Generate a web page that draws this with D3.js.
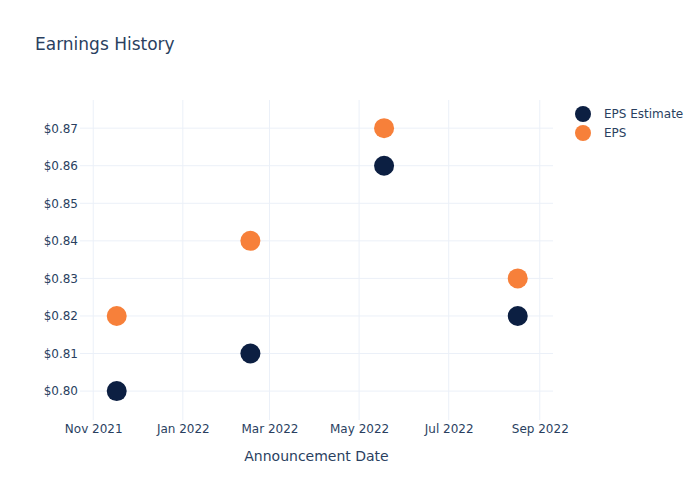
<!DOCTYPE html>
<html><head><meta charset="utf-8">
<script src="https://cdn.jsdelivr.net/npm/d3@7"></script>
<style>body{margin:0;background:#fff}svg{font-family:"DejaVu Sans",Verdana,sans-serif}</style>
</head><body>
<svg id="c" width="700" height="500"></svg>
<script>
const dates = ["2021-11-17","2022-02-16","2022-05-18","2022-08-17"];
const epsEstimate = [0.80, 0.81, 0.86, 0.82];
const eps = [0.82, 0.84, 0.87, 0.83];
const yTicks = [0.80,0.81,0.82,0.83,0.84,0.85,0.86,0.87];
const xTicks = ["2021-11-01","2022-01-01","2022-03-01","2022-05-01","2022-07-01","2022-09-01"];
const seriesNames = ["EPS Estimate","EPS"];
const colors = ["#0c1f42","#f7803a"];

const parse = d3.timeParse("%Y-%m-%d");
const svg = d3.select("#c");
const L=80,R=553,T=100,B=420;
const x = d3.scaleTime().domain([parse("2021-10-23"), parse("2022-09-10")]).range([L,R]);
const y = d3.scaleLinear().domain([0.7923,0.8775]).range([B,T]);
const txt="#2a3f5f", grid="#ebf0f8";

// grid
svg.append("g").selectAll("line").data(xTicks).join("line")
  .attr("x1",d=>x(parse(d))).attr("x2",d=>x(parse(d))).attr("y1",T).attr("y2",B)
  .attr("stroke",grid).attr("stroke-width",1);
svg.append("g").selectAll("line").data(yTicks).join("line")
  .attr("x1",L).attr("x2",R).attr("y1",d=>y(d)).attr("y2",d=>y(d))
  .attr("stroke",grid).attr("stroke-width",1);

// axes
const xa = svg.append("g").attr("transform",`translate(0,${B})`)
  .call(d3.axisBottom(x).tickValues(xTicks.map(parse)).tickFormat(d3.timeFormat("%b %Y")).tickSize(0).tickPadding(4));
const ya = svg.append("g").attr("transform",`translate(${L},0)`)
  .call(d3.axisLeft(y).tickValues(yTicks).tickFormat(d=>"$"+d.toFixed(2)).tickSize(0).tickPadding(2));
[xa,ya].forEach(a=>{a.select(".domain").remove();a.selectAll("text").attr("fill",txt).style("font-size","12px").style("font-family","'DejaVu Sans',sans-serif");});

// points
const series=[epsEstimate,eps];
series.forEach((vals,i)=>{
  svg.append("g").selectAll("circle").data(vals).join("circle")
    .attr("cx",(d,j)=>x(parse(dates[j]))).attr("cy",d=>y(d)).attr("r",10)
    .attr("fill",colors[i]);
});

// title
svg.append("text").attr("x",35).attr("y",50).text("Earnings History")
  .attr("fill",txt).style("font-size","17px");
svg.append("text").attr("x",(L+R)/2).attr("y",461).attr("text-anchor","middle")
  .text("Announcement Date").attr("fill",txt).style("font-size","14px");

// legend
seriesNames.forEach((n,i)=>{
  svg.append("circle").attr("cx",583).attr("cy",114+i*19).attr("r",8).attr("fill",colors[i]);
  svg.append("text").attr("x",604).attr("y",118+i*19).text(n).attr("fill",txt).style("font-size","12px");
});
</script>
</body></html>
